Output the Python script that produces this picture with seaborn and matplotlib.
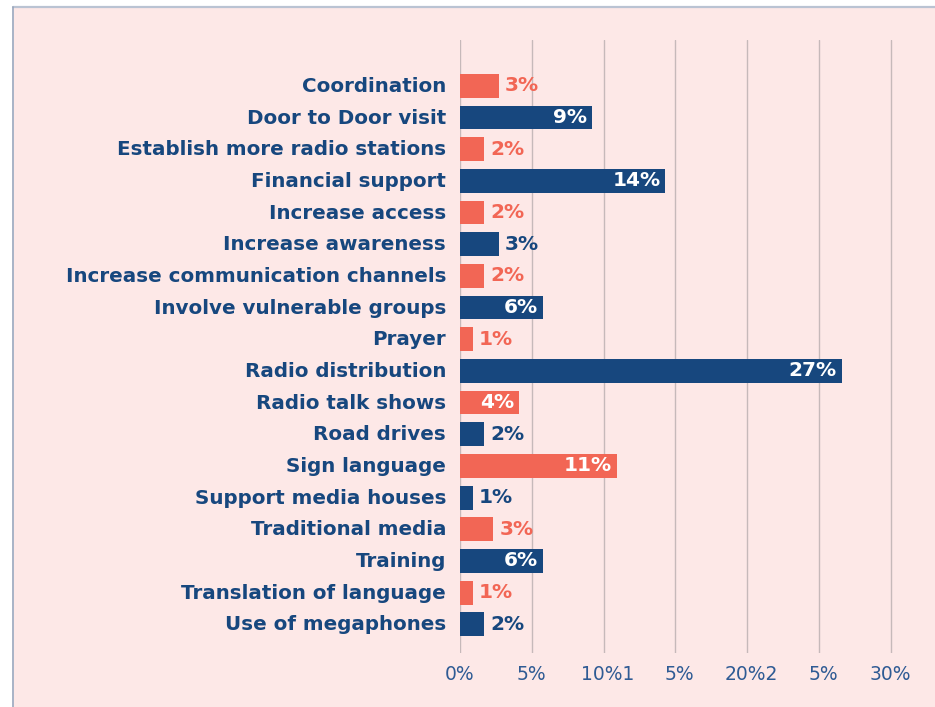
import matplotlib
matplotlib.use("Agg")
import matplotlib.pyplot as plt
from matplotlib.patches import Rectangle
from matplotlib.lines import Line2D
import matplotlib.transforms as mtransforms
import pandas as pd
import seaborn as sns

categories = [
    "Coordination", "Door to Door visit", "Establish more radio stations",
    "Financial support", "Increase access", "Increase awareness",
    "Increase communication channels", "Involve vulnerable groups", "Prayer",
    "Radio distribution", "Radio talk shows", "Road drives", "Sign language",
    "Support media houses", "Traditional media", "Training",
    "Translation of language", "Use of megaphones",
]
values = [2.7, 9.2, 1.7, 14.3, 1.7, 2.7, 1.7, 5.8, 0.9,
          26.6, 4.1, 1.7, 10.9, 0.9, 2.3, 5.8, 0.9, 1.7]
value_labels = ["3%", "9%", "2%", "14%", "2%", "3%", "2%", "6%", "1%",
                "27%", "4%", "2%", "11%", "1%", "3%", "6%", "1%", "2%"]
tick_values = [0, 5, 10, 15, 20, 25, 30]
tick_labels = ["0%", "5%", "10%1", "5%", "20%2", "5%", "30%"]

NAVY = "#17477E"
CORAL = "#F26655"
PINK = "#FDE8E7"
TICK_BLUE = "#2F5B94"
BORDER = "#BAC3D3"

df = pd.DataFrame({"category": categories, "value": values})
colors = [CORAL if i % 2 == 0 else NAVY for i in range(len(categories))]

sns.set_theme(style="white")
plt.rcParams["font.family"] = ["DejaVu Sans"]

W, H = 935, 707
fig = plt.figure(figsize=(W / 100, H / 100), dpi=100)
fig.patch.set_facecolor("white")

# pink panel with its top/left border
fig.add_artist(Rectangle((14 / W, 0), 1, (H - 8) / H, transform=fig.transFigure,
                         facecolor=PINK, edgecolor="none", lw=0, zorder=0))
fig.add_artist(Line2D([13 / W, 1], [1 - 6.5 / H] * 2, transform=fig.transFigure,
                      color=BORDER, lw=1.6))
fig.add_artist(Line2D([13 / W] * 2, [0, 1 - 6.5 / H], transform=fig.transFigure,
                      color="#9AA6BC", lw=1.2))

ax = fig.add_axes([460 / W, 1 - 652.5 / H, 475 / W, 612.5 / H])
ax.set_facecolor("none")

sns.barplot(data=df, x="value", y="category", hue="category", palette=colors,
            orient="h", width=0.75, saturation=1, legend=False, ax=ax,
            linewidth=0, edgecolor="none", zorder=3)

ax.set_xlim(0, 475 / 14.36)
ax.set_ylim(17.89, -1.45)
ax.set_xticks(tick_values)
ax.set_xticklabels(tick_labels)
ax.grid(axis="x", color="#C6B9BA", lw=1)
ax.grid(axis="y", visible=False)
ax.set_axisbelow(True)
for s in ax.spines.values():
    s.set_visible(False)
ax.set_xlabel("")
ax.set_ylabel("")

ax.tick_params(axis="y", length=0, pad=10, labelsize=14.3, labelcolor=NAVY)
ax.tick_params(axis="x", length=0, pad=9, labelsize=13.5, labelcolor=TICK_BLUE)
for lab in ax.get_yticklabels():
    lab.set_fontweight("bold")
    lab.set_transform(lab.get_transform() +
                      mtransforms.ScaledTranslation(0, 1.5 / 100, fig.dpi_scale_trans))

# nudge the broken tick labels a little to the right
for i, lab in enumerate(ax.get_xticklabels()):
    if i in (2, 3, 4, 5):
        lab.set_transform(lab.get_transform() +
                          mtransforms.ScaledTranslation(4 / 100, 0, fig.dpi_scale_trans))

for i, (v, txt) in enumerate(zip(values, value_labels)):
    if v >= 4:
        ax.annotate(txt, (v, i), xytext=(-3.6, 0), textcoords="offset points",
                    ha="right", va="center", color="white", fontsize=14.5,
                    fontweight="bold", zorder=5)
    else:
        ax.annotate(txt, (v, i), xytext=(4.5, 0), textcoords="offset points",
                    ha="left", va="center", color=colors[i], fontsize=14.5,
                    fontweight="bold", zorder=5)

fig.savefig("out.png", dpi=100)
